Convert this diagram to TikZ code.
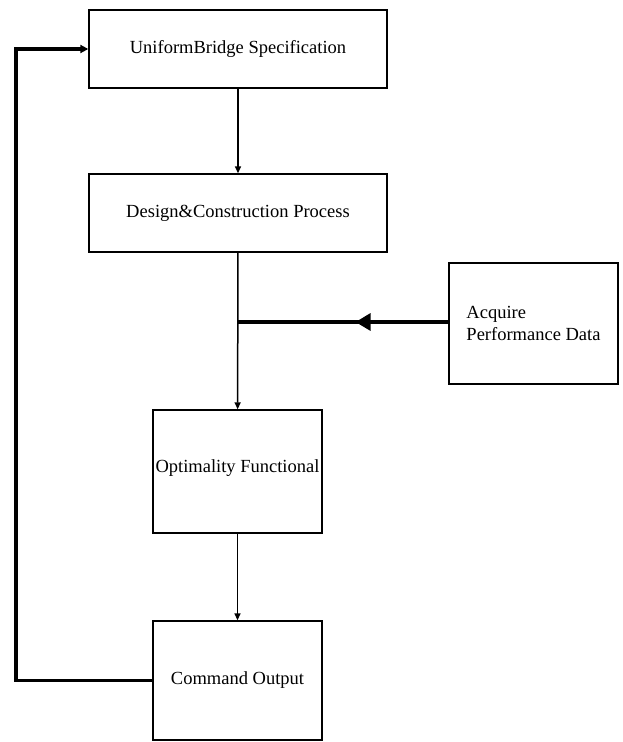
\documentclass[tikz,border=0pt]{standalone}
\usepackage{fontspec}
\setmainfont{Liberation Serif}
\usepackage{tikz}
\usetikzlibrary{arrows.meta, positioning, calc}

\begin{document}
\begin{tikzpicture}[
    x=1pt, y=-1pt,
    >=Stealth,
    block/.style={draw, line width=1.4pt, minimum width=#1, inner sep=0pt, font=\fontsize{18.5}{22}\selectfont},
    flow/.style={line width=1.5pt, -{Triangle[length=7pt, width=6pt]}},
    feedback/.style={line width=3.2pt, -{Triangle[length=8pt, width=8pt]}},
    datain/.style={line width=3.2pt},
]
\useasboundingbox (0,0) rectangle (622,742);

% Main chain
\node[block=298pt, minimum height=78pt] (spec) at (238,49) {UniformBridge Specification};
\node[block=298pt, minimum height=78pt] (design) at (238,213) {Design\&Construction Process};
\node[block=169pt, minimum height=123pt] (opt) at (237.5,471.5) {\raisebox{10pt}{Optimality Functional}};
\node[block=169pt, minimum height=119pt] (cmd) at (237.5,680.5) {Command Output};

% Measured data
\node[block=169pt, minimum height=121pt, align=left] (acq) at (533.5,323.5) {Acquire\\Performance Data};

% Junction and feedback corner
\coordinate (jn) at (237.5,322);
\coordinate (fb) at (16,680.5);
\coordinate (mid) at ($(acq.west |- jn)!0.44!(jn)$);

% Connectors
\draw[flow] (spec) -- (design);
\draw[flow] (design) -- (opt);
\draw[flow] (opt) -- (cmd);
\draw[datain] (acq.west |- jn) -- (jn);
\draw[datain, -{Triangle[length=15pt, width=17pt]}] (acq.west |- jn) -- (mid);
\draw[feedback] (cmd.west) -- (fb) |- (spec.west);

\end{tikzpicture}
\end{document}
